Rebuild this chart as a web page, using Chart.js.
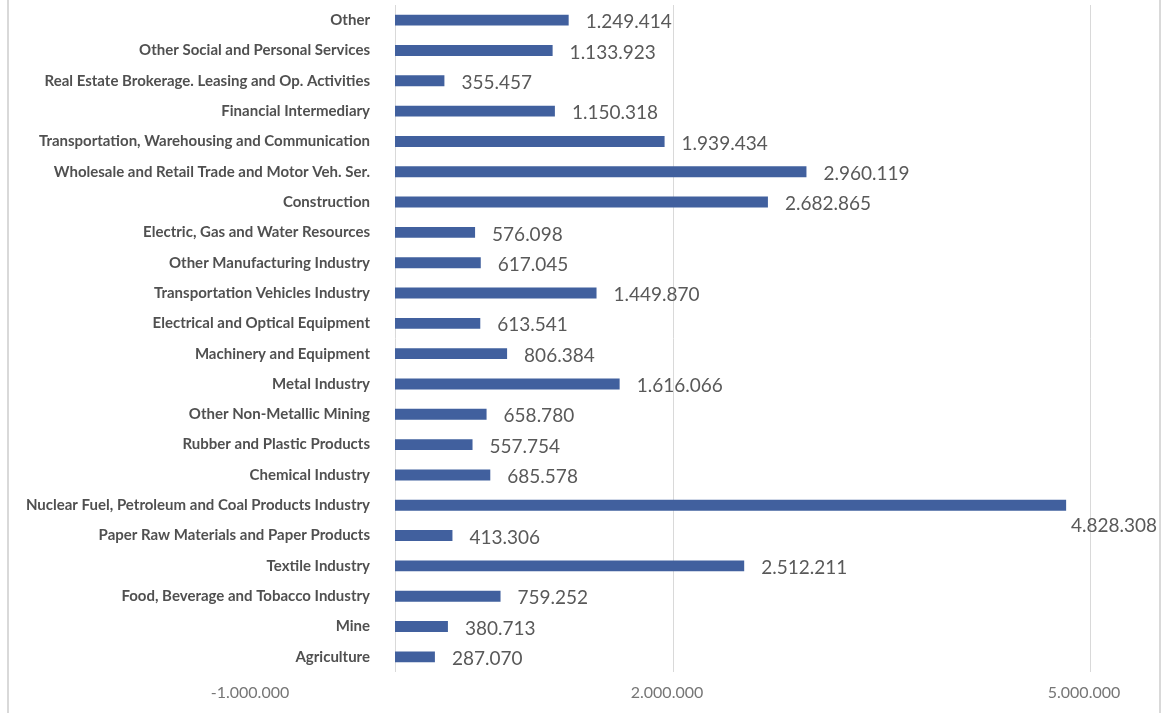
<!DOCTYPE html>
<html>
<head>
<meta charset="utf-8">
<script src="https://cdn.jsdelivr.net/npm/chart.js@4/dist/chart.umd.min.js"></script>
<style>
  html, body { margin: 0; padding: 0; background: #ffffff; }
  #wrap { position: relative; width: 1163px; height: 713px; }
</style>
</head>
<body>
<div id="wrap"><canvas id="c" width="1163" height="713"></canvas></div>
<script>
const categories = [
  "Other",
  "Other Social and Personal Services",
  "Real Estate Brokerage. Leasing and Op. Activities",
  "Financial Intermediary",
  "Transportation, Warehousing and Communication",
  "Wholesale and Retail Trade and Motor Veh. Ser.",
  "Construction",
  "Electric, Gas and Water Resources",
  "Other Manufacturing Industry",
  "Transportation Vehicles Industry",
  "Electrical and Optical Equipment",
  "Machinery and Equipment",
  "Metal Industry",
  "Other Non-Metallic Mining",
  "Rubber and Plastic Products",
  "Chemical Industry",
  "Nuclear Fuel, Petroleum and Coal Products Industry",
  "Paper Raw Materials and Paper Products",
  "Textile Industry",
  "Food, Beverage and Tobacco Industry",
  "Mine",
  "Agriculture"
];
const values = [
  1249414, 1133923, 355457, 1150318, 1939434, 2960119, 2682865,
  576098, 617045, 1449870, 613541, 806384, 1616066, 658780,
  557754, 685578, 4828308, 413306, 2512211, 759252, 380713, 287070
];
const axisMin = -1000000;
const axisMax = 5000000;
const axisStep = 3000000;

function fmt(v) {
  return String(v).replace(/\B(?=(\d{3})+(?!\d))/g, '.');
}

const BAR_COLOR = '#41609e';
const GRID_COLOR = '#d9d9d9';
const CAT_FONT = { family: 'Lato', size: 15, weight: 'bold' };
const Y_AXIS_WIDTH = 256;     // chart area left edge (value -1.000.000)
const LABEL_RIGHT = 370;      // right edge of category labels

// widest category label, to right-align mirrored labels at LABEL_RIGHT
const mctx = document.createElement('canvas').getContext('2d');
mctx.font = 'bold 15px Lato';
const widest = Math.max(...categories.map(c => mctx.measureText(c).width));

const framePlugin = {
  id: 'frame',
  beforeDraw(chart) {
    const ctx = chart.ctx;
    ctx.save();
    ctx.fillStyle = '#d9d9d9';
    ctx.fillRect(7, 0, 2, chart.height);
    ctx.fillRect(1159, 0, 2, chart.height);
    ctx.restore();
  },
  beforeDatasetsDraw(chart) {
    const ctx = chart.ctx;
    const x = Math.round(chart.scales.x.getPixelForValue(0)) + 0.5;
    const a = chart.chartArea;
    ctx.save();
    ctx.strokeStyle = GRID_COLOR;
    ctx.lineWidth = 1;
    ctx.beginPath();
    ctx.moveTo(x, a.top);
    ctx.lineTo(x, a.bottom);
    ctx.stroke();
    ctx.restore();
  }
};

const valueLabelPlugin = {
  id: 'valueLabels',
  afterDatasetsDraw(chart) {
    const ctx = chart.ctx;
    const meta = chart.getDatasetMeta(0);
    ctx.save();
    ctx.font = '19px Lato';
    ctx.fillStyle = '#595959';
    ctx.textBaseline = 'middle';
    ctx.textAlign = 'left';
    meta.data.forEach((bar, i) => {
      const txt = fmt(chart.data.datasets[0].data[i]);
      const w = ctx.measureText(txt).width;
      let x = bar.x + 17;
      let y = bar.y + 2;
      const limit = 1157;
      if (x + w > limit) {
        x = limit - w;
        y = bar.y + 21;
      }
      ctx.fillText(txt, x, y);
    });
    ctx.restore();
  }
};

new Chart(document.getElementById('c'), {
  type: 'bar',
  data: {
    labels: categories,
    datasets: [{
      data: values,
      backgroundColor: BAR_COLOR,
      borderWidth: 0,
      barPercentage: 0.36,
      categoryPercentage: 1.0
    }]
  },
  plugins: [framePlugin, valueLabelPlugin],
  options: {
    indexAxis: 'y',
    responsive: false,
    animation: false,
    devicePixelRatio: 1,
    layout: { padding: { left: 0, right: 73, top: 5, bottom: 0 } },
    plugins: {
      legend: { display: false },
      tooltip: { enabled: false },
      title: { display: false }
    },
    scales: {
      x: {
        type: 'linear',
        min: axisMin,
        max: axisMax,
        grid: {
          color: (c) => (c.tick && c.tick.value === axisMin ? 'rgba(0,0,0,0)' : GRID_COLOR),
          drawTicks: false
        },
        border: { display: false },
        ticks: {
          stepSize: axisStep,
          padding: 11,
          labelOffset: -6,
          color: '#767676',
          font: { family: 'Lato', size: 16 },
          callback: (v) => fmt(v)
        },
        afterFit(scale) { scale.height = 41; }
      },
      y: {
        grid: { display: false, drawTicks: false },
        border: { display: false },
        ticks: {
          autoSkip: false,
          mirror: true,
          crossAlign: 'far',
          padding: LABEL_RIGHT - Y_AXIS_WIDTH - widest,
          color: '#505050',
          font: CAT_FONT
        },
        afterFit(scale) { scale.width = Y_AXIS_WIDTH; }
      }
    }
  }
});
</script>
</body>
</html>
